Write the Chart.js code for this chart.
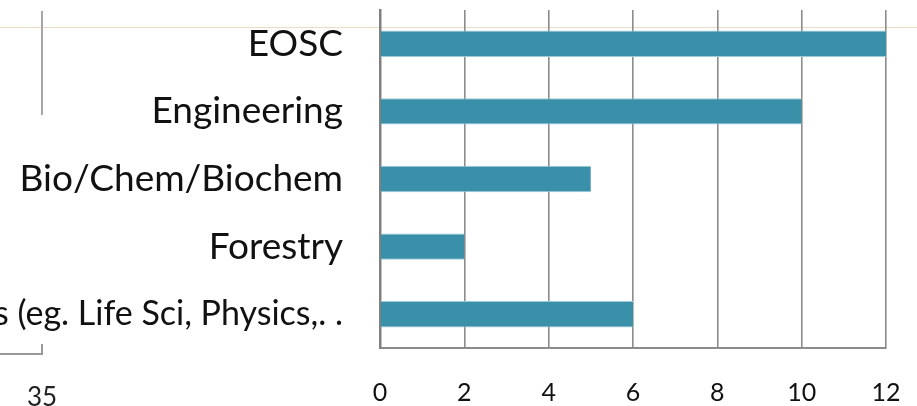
<!DOCTYPE html>
<html>
<head>
<meta charset="utf-8">
<script src="https://cdn.jsdelivr.net/npm/chart.js@4/dist/chart.umd.min.js"></script>
<style>
  html, body { margin: 0; padding: 0; background: #fff; overflow: hidden; }
  #chart { display: block; }
</style>
</head>
<body>
<canvas id="chart" width="917" height="406"></canvas>
<script>
// data
const categories = ['EOSC', 'Engineering', 'Bio/Chem/Biochem', 'Forestry', 's (eg. Life Sci, Physics,. .']
const counts     = [12, 10, 5, 2, 6]
const xTicks     = [0, 2, 4, 6, 8, 10, 12]
const pageNumber = '35'

const FONT = 'Lato, "Open Sans", sans-serif'
const GRID = '#8c8c8c'

// bits of the slide around the chart
const slideBits = {
  id: 'slideBits',
  beforeDraw (c) {
    const ctx = c.ctx
    ctx.save()
    ctx.strokeStyle = '#eadcc2'
    ctx.lineWidth = 1
    ctx.beginPath()
    ctx.moveTo(0, 27.5); ctx.lineTo(917, 27.5)
    ctx.stroke()
    ctx.restore()
  },
  afterDraw (c) {
    const ctx = c.ctx
    ctx.save()
    ctx.strokeStyle = '#a6a6a6'
    ctx.lineWidth = 2
    ctx.beginPath()
    ctx.moveTo(42, 11); ctx.lineTo(42, 115)
    ctx.stroke()
    ctx.strokeStyle = '#999'
    ctx.beginPath()
    ctx.moveTo(42, 344); ctx.lineTo(42, 354); ctx.lineTo(0, 354)
    ctx.stroke()
    ctx.fillStyle = '#222'
    ctx.font = '26px ' + FONT
    ctx.textBaseline = 'alphabetic'
    ctx.fillText(pageNumber, 27, 406)
    ctx.restore()
  }
}

new Chart(document.getElementById('chart'), {
  type: 'bar',
  data: {
    labels: categories,
    datasets: [{
      data: counts,
      backgroundColor: '#3a90a8',
      borderColor: '#9ccad6',
      borderWidth: { top: 1, bottom: 1, left: 0, right: 0 },
      borderSkipped: false,
      categoryPercentage: 1,
      barPercentage: 0.39
    }]
  },
  options: {
    indexAxis: 'y',
    responsive: false,
    animation: false,
    devicePixelRatio: 1,
    layout: { padding: { top: 10, right: 31, bottom: 0, left: 0 } },
    plugins: { legend: { display: false }, tooltip: { enabled: false } },
    scales: {
      x: {
        min: 0,
        max: 12,
        afterBuildTicks: s => { s.ticks = xTicks.map(v => ({ value: v })) },
        afterFit: s => { s.height = 58; s.paddingLeft = 0; s.paddingRight = 0 },
        grid: { color: GRID, lineWidth: 1.6, drawTicks: false },
        border: { display: true, color: GRID, width: 2 },
        ticks: { color: '#111', padding: 30, font: { family: FONT, size: 25 } }
      },
      y: {
        afterFit: s => { s.width = 380; s.paddingTop = 0; s.paddingBottom = 0 },
        grid: { display: false, drawTicks: false },
        border: { display: true, color: '#808080', width: 2.5 },
        ticks: {
          color: '#111',
          padding: 37,
          // the long clipped label sits a little tighter on the slide
          font: ctx => ({ family: FONT, size: ctx.index === 4 ? 34 : 37 })
        }
      }
    }
  },
  plugins: [slideBits]
})
</script>
</body>
</html>
